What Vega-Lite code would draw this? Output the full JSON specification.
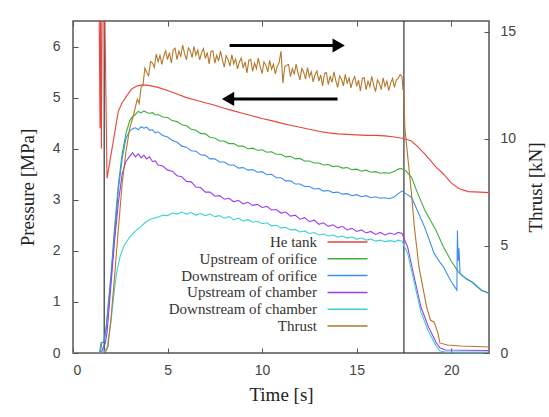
{
  "$schema": "https://vega.github.io/schema/vega-lite/v6.json",
  "width": 416,
  "height": 332,
  "autosize": {"type": "none"},
  "padding": {"left": 73, "top": 21, "right": 60, "bottom": 64},
  "background": "white",
  "config": {
    "view": {"stroke": "#555555", "strokeWidth": 1.5},
    "axis": {"labelFont": "Liberation Sans", "labelFontSize": 14, "labelColor": "#444444", "titleFont": "Liberation Serif", "titleFontSize": 19, "titleFontWeight": "normal", "titleColor": "#222222", "tickColor": "#555555", "domain": false, "grid": false}
  },
  "datasets": {
    "p": [
      {"s":"He tank","t":0,"v":6.9},{"s":"He tank","t":1.38,"v":6.9},{"s":"He tank","t":1.43,"v":4.4},{"s":"He tank","t":1.46,"v":6.7},{"s":"He tank","t":1.5,"v":4.0},{"s":"He tank","t":1.54,"v":6.7},{"s":"He tank","t":1.68,"v":6.7},{"s":"He tank","t":1.8,"v":3.42},{"s":"He tank","t":2.0,"v":3.86},{"s":"He tank","t":2.2,"v":4.3},{"s":"He tank","t":2.4,"v":4.74},{"s":"He tank","t":2.6,"v":4.9},{"s":"He tank","t":2.85,"v":5.04},{"s":"He tank","t":3.1,"v":5.17},{"s":"He tank","t":3.4,"v":5.23},{"s":"He tank","t":3.7,"v":5.25},{"s":"He tank","t":4.0,"v":5.24},{"s":"He tank","t":4.5,"v":5.2},{"s":"He tank","t":5.0,"v":5.14},{"s":"He tank","t":5.5,"v":5.07},{"s":"He tank","t":6.0,"v":5.0},{"s":"He tank","t":6.5,"v":4.95},{"s":"He tank","t":7.0,"v":4.9},{"s":"He tank","t":7.5,"v":4.85},{"s":"He tank","t":8.0,"v":4.79},{"s":"He tank","t":8.5,"v":4.74},{"s":"He tank","t":9.0,"v":4.69},{"s":"He tank","t":9.5,"v":4.64},{"s":"He tank","t":10.0,"v":4.59},{"s":"He tank","t":10.5,"v":4.55},{"s":"He tank","t":11.0,"v":4.5},{"s":"He tank","t":11.5,"v":4.46},{"s":"He tank","t":12.0,"v":4.42},{"s":"He tank","t":12.5,"v":4.38},{"s":"He tank","t":13.0,"v":4.34},{"s":"He tank","t":13.5,"v":4.31},{"s":"He tank","t":14.0,"v":4.29},{"s":"He tank","t":14.5,"v":4.28},{"s":"He tank","t":15.0,"v":4.27},{"s":"He tank","t":15.5,"v":4.26},{"s":"He tank","t":16.0,"v":4.26},{"s":"He tank","t":16.5,"v":4.25},{"s":"He tank","t":17.0,"v":4.23},{"s":"He tank","t":17.5,"v":4.2},{"s":"He tank","t":17.9,"v":4.15},{"s":"He tank","t":18.2,"v":4.05},{"s":"He tank","t":18.6,"v":3.9},{"s":"He tank","t":18.9,"v":3.77},{"s":"He tank","t":19.2,"v":3.64},{"s":"He tank","t":19.6,"v":3.5},{"s":"He tank","t":20.0,"v":3.33},{"s":"He tank","t":20.4,"v":3.22},{"s":"He tank","t":20.9,"v":3.16},{"s":"He tank","t":21.5,"v":3.15},{"s":"He tank","t":22,"v":3.14},

      {"s":"Upstream of orifice","t":0,"v":0},{"s":"Upstream of orifice","t":1.45,"v":0},{"s":"Upstream of orifice","t":1.52,"v":0.2},{"s":"Upstream of orifice","t":1.65,"v":0.22},{"s":"Upstream of orifice","t":1.75,"v":0.5},{"s":"Upstream of orifice","t":2.0,"v":1.5},{"s":"Upstream of orifice","t":2.2,"v":2.46},{"s":"Upstream of orifice","t":2.4,"v":3.3},{"s":"Upstream of orifice","t":2.6,"v":3.9},{"s":"Upstream of orifice","t":2.8,"v":4.3},{"s":"Upstream of orifice","t":3.0,"v":4.55},{"s":"Upstream of orifice","t":3.15,"v":4.63},{"s":"Upstream of orifice","t":3.3,"v":4.67},{"s":"Upstream of orifice","t":3.45,"v":4.73},{"s":"Upstream of orifice","t":3.6,"v":4.7},{"s":"Upstream of orifice","t":3.75,"v":4.74},{"s":"Upstream of orifice","t":3.9,"v":4.71},{"s":"Upstream of orifice","t":4.05,"v":4.69},{"s":"Upstream of orifice","t":4.2,"v":4.71},{"s":"Upstream of orifice","t":4.35,"v":4.66},{"s":"Upstream of orifice","t":4.5,"v":4.67},{"s":"Upstream of orifice","t":4.75,"v":4.62},{"s":"Upstream of orifice","t":5.0,"v":4.61},{"s":"Upstream of orifice","t":5.25,"v":4.55},{"s":"Upstream of orifice","t":5.5,"v":4.53},{"s":"Upstream of orifice","t":5.75,"v":4.47},{"s":"Upstream of orifice","t":6.0,"v":4.45},{"s":"Upstream of orifice","t":6.25,"v":4.38},{"s":"Upstream of orifice","t":6.5,"v":4.36},{"s":"Upstream of orifice","t":6.75,"v":4.3},{"s":"Upstream of orifice","t":7.0,"v":4.29},{"s":"Upstream of orifice","t":7.25,"v":4.22},{"s":"Upstream of orifice","t":7.5,"v":4.21},{"s":"Upstream of orifice","t":7.75,"v":4.15},{"s":"Upstream of orifice","t":8.0,"v":4.15},{"s":"Upstream of orifice","t":8.25,"v":4.1},{"s":"Upstream of orifice","t":8.5,"v":4.1},{"s":"Upstream of orifice","t":8.75,"v":4.05},{"s":"Upstream of orifice","t":9.0,"v":4.05},{"s":"Upstream of orifice","t":9.25,"v":4.0},{"s":"Upstream of orifice","t":9.5,"v":4.01},{"s":"Upstream of orifice","t":9.75,"v":3.97},{"s":"Upstream of orifice","t":10.0,"v":3.98},{"s":"Upstream of orifice","t":10.25,"v":3.93},{"s":"Upstream of orifice","t":10.5,"v":3.94},{"s":"Upstream of orifice","t":10.75,"v":3.89},{"s":"Upstream of orifice","t":11.0,"v":3.89},{"s":"Upstream of orifice","t":11.25,"v":3.84},{"s":"Upstream of orifice","t":11.5,"v":3.85},{"s":"Upstream of orifice","t":11.75,"v":3.8},{"s":"Upstream of orifice","t":12.0,"v":3.81},{"s":"Upstream of orifice","t":12.25,"v":3.76},{"s":"Upstream of orifice","t":12.5,"v":3.76},{"s":"Upstream of orifice","t":12.75,"v":3.72},{"s":"Upstream of orifice","t":13.0,"v":3.72},{"s":"Upstream of orifice","t":13.25,"v":3.68},{"s":"Upstream of orifice","t":13.5,"v":3.69},{"s":"Upstream of orifice","t":13.75,"v":3.65},{"s":"Upstream of orifice","t":14.0,"v":3.66},{"s":"Upstream of orifice","t":14.25,"v":3.62},{"s":"Upstream of orifice","t":14.5,"v":3.63},{"s":"Upstream of orifice","t":14.75,"v":3.59},{"s":"Upstream of orifice","t":15.0,"v":3.6},{"s":"Upstream of orifice","t":15.25,"v":3.56},{"s":"Upstream of orifice","t":15.5,"v":3.58},{"s":"Upstream of orifice","t":15.75,"v":3.54},{"s":"Upstream of orifice","t":16.0,"v":3.55},{"s":"Upstream of orifice","t":16.25,"v":3.52},{"s":"Upstream of orifice","t":16.5,"v":3.53},{"s":"Upstream of orifice","t":16.75,"v":3.52},{"s":"Upstream of orifice","t":17.0,"v":3.56},{"s":"Upstream of orifice","t":17.2,"v":3.6},{"s":"Upstream of orifice","t":17.35,"v":3.61},{"s":"Upstream of orifice","t":17.6,"v":3.57},{"s":"Upstream of orifice","t":17.9,"v":3.44},{"s":"Upstream of orifice","t":18.2,"v":3.15},{"s":"Upstream of orifice","t":18.6,"v":2.8},{"s":"Upstream of orifice","t":18.9,"v":2.6},{"s":"Upstream of orifice","t":19.2,"v":2.4},{"s":"Upstream of orifice","t":19.6,"v":2.07},{"s":"Upstream of orifice","t":20.0,"v":1.8},{"s":"Upstream of orifice","t":20.4,"v":1.58},{"s":"Upstream of orifice","t":20.7,"v":1.48},{"s":"Upstream of orifice","t":21.1,"v":1.39},{"s":"Upstream of orifice","t":21.6,"v":1.23},{"s":"Upstream of orifice","t":22,"v":1.17},

      {"s":"Downstream of orifice","t":0,"v":0},{"s":"Downstream of orifice","t":1.4,"v":0},{"s":"Downstream of orifice","t":1.48,"v":0.2},{"s":"Downstream of orifice","t":1.62,"v":0.22},{"s":"Downstream of orifice","t":1.75,"v":0.45},{"s":"Downstream of orifice","t":2.0,"v":1.4},{"s":"Downstream of orifice","t":2.2,"v":2.35},{"s":"Downstream of orifice","t":2.4,"v":3.2},{"s":"Downstream of orifice","t":2.6,"v":3.8},{"s":"Downstream of orifice","t":2.8,"v":4.2},{"s":"Downstream of orifice","t":3.0,"v":4.35},{"s":"Downstream of orifice","t":3.15,"v":4.39},{"s":"Downstream of orifice","t":3.3,"v":4.41},{"s":"Downstream of orifice","t":3.45,"v":4.37},{"s":"Downstream of orifice","t":3.6,"v":4.43},{"s":"Downstream of orifice","t":3.75,"v":4.4},{"s":"Downstream of orifice","t":3.9,"v":4.42},{"s":"Downstream of orifice","t":4.05,"v":4.36},{"s":"Downstream of orifice","t":4.2,"v":4.37},{"s":"Downstream of orifice","t":4.35,"v":4.31},{"s":"Downstream of orifice","t":4.5,"v":4.33},{"s":"Downstream of orifice","t":4.75,"v":4.26},{"s":"Downstream of orifice","t":5.0,"v":4.23},{"s":"Downstream of orifice","t":5.25,"v":4.16},{"s":"Downstream of orifice","t":5.5,"v":4.13},{"s":"Downstream of orifice","t":5.75,"v":4.05},{"s":"Downstream of orifice","t":6.0,"v":4.03},{"s":"Downstream of orifice","t":6.25,"v":3.96},{"s":"Downstream of orifice","t":6.5,"v":3.95},{"s":"Downstream of orifice","t":6.75,"v":3.88},{"s":"Downstream of orifice","t":7.0,"v":3.87},{"s":"Downstream of orifice","t":7.25,"v":3.8},{"s":"Downstream of orifice","t":7.5,"v":3.8},{"s":"Downstream of orifice","t":7.75,"v":3.74},{"s":"Downstream of orifice","t":8.0,"v":3.74},{"s":"Downstream of orifice","t":8.25,"v":3.68},{"s":"Downstream of orifice","t":8.5,"v":3.68},{"s":"Downstream of orifice","t":8.75,"v":3.62},{"s":"Downstream of orifice","t":9.0,"v":3.63},{"s":"Downstream of orifice","t":9.25,"v":3.58},{"s":"Downstream of orifice","t":9.5,"v":3.59},{"s":"Downstream of orifice","t":9.75,"v":3.54},{"s":"Downstream of orifice","t":10.0,"v":3.55},{"s":"Downstream of orifice","t":10.25,"v":3.49},{"s":"Downstream of orifice","t":10.5,"v":3.5},{"s":"Downstream of orifice","t":10.75,"v":3.43},{"s":"Downstream of orifice","t":11.0,"v":3.43},{"s":"Downstream of orifice","t":11.25,"v":3.37},{"s":"Downstream of orifice","t":11.5,"v":3.37},{"s":"Downstream of orifice","t":11.75,"v":3.31},{"s":"Downstream of orifice","t":12.0,"v":3.31},{"s":"Downstream of orifice","t":12.25,"v":3.26},{"s":"Downstream of orifice","t":12.5,"v":3.26},{"s":"Downstream of orifice","t":12.75,"v":3.21},{"s":"Downstream of orifice","t":13.0,"v":3.22},{"s":"Downstream of orifice","t":13.25,"v":3.17},{"s":"Downstream of orifice","t":13.5,"v":3.18},{"s":"Downstream of orifice","t":13.75,"v":3.14},{"s":"Downstream of orifice","t":14.0,"v":3.15},{"s":"Downstream of orifice","t":14.25,"v":3.11},{"s":"Downstream of orifice","t":14.5,"v":3.12},{"s":"Downstream of orifice","t":14.75,"v":3.08},{"s":"Downstream of orifice","t":15.0,"v":3.1},{"s":"Downstream of orifice","t":15.25,"v":3.06},{"s":"Downstream of orifice","t":15.5,"v":3.08},{"s":"Downstream of orifice","t":15.75,"v":3.04},{"s":"Downstream of orifice","t":16.0,"v":3.06},{"s":"Downstream of orifice","t":16.25,"v":3.03},{"s":"Downstream of orifice","t":16.5,"v":3.04},{"s":"Downstream of orifice","t":16.75,"v":3.02},{"s":"Downstream of orifice","t":17.0,"v":3.06},{"s":"Downstream of orifice","t":17.2,"v":3.12},{"s":"Downstream of orifice","t":17.4,"v":3.17},{"s":"Downstream of orifice","t":17.6,"v":3.12},{"s":"Downstream of orifice","t":17.9,"v":3.05},{"s":"Downstream of orifice","t":18.2,"v":2.8},{"s":"Downstream of orifice","t":18.6,"v":2.46},{"s":"Downstream of orifice","t":19.1,"v":1.95},{"s":"Downstream of orifice","t":19.4,"v":1.78},{"s":"Downstream of orifice","t":19.6,"v":1.68},{"s":"Downstream of orifice","t":20.0,"v":1.4},{"s":"Downstream of orifice","t":20.3,"v":1.23},{"s":"Downstream of orifice","t":20.33,"v":2.4},{"s":"Downstream of orifice","t":20.37,"v":1.8},{"s":"Downstream of orifice","t":20.41,"v":2.05},{"s":"Downstream of orifice","t":20.47,"v":1.56},{"s":"Downstream of orifice","t":20.8,"v":1.45},{"s":"Downstream of orifice","t":21.1,"v":1.39},{"s":"Downstream of orifice","t":21.6,"v":1.23},{"s":"Downstream of orifice","t":22,"v":1.17},

      {"s":"Upstream of chamber","t":0,"v":0},{"s":"Upstream of chamber","t":1.5,"v":0},{"s":"Upstream of chamber","t":1.6,"v":0.12},{"s":"Upstream of chamber","t":1.7,"v":0.18},{"s":"Upstream of chamber","t":1.8,"v":0.4},{"s":"Upstream of chamber","t":2.0,"v":1.3},{"s":"Upstream of chamber","t":2.2,"v":2.2},{"s":"Upstream of chamber","t":2.4,"v":2.95},{"s":"Upstream of chamber","t":2.6,"v":3.5},{"s":"Upstream of chamber","t":2.8,"v":3.75},{"s":"Upstream of chamber","t":3.0,"v":3.85},{"s":"Upstream of chamber","t":3.15,"v":3.92},{"s":"Upstream of chamber","t":3.3,"v":3.84},{"s":"Upstream of chamber","t":3.45,"v":3.9},{"s":"Upstream of chamber","t":3.6,"v":3.82},{"s":"Upstream of chamber","t":3.75,"v":3.87},{"s":"Upstream of chamber","t":3.9,"v":3.8},{"s":"Upstream of chamber","t":4.05,"v":3.84},{"s":"Upstream of chamber","t":4.2,"v":3.75},{"s":"Upstream of chamber","t":4.35,"v":3.76},{"s":"Upstream of chamber","t":4.5,"v":3.68},{"s":"Upstream of chamber","t":4.75,"v":3.66},{"s":"Upstream of chamber","t":5.0,"v":3.58},{"s":"Upstream of chamber","t":5.25,"v":3.56},{"s":"Upstream of chamber","t":5.5,"v":3.47},{"s":"Upstream of chamber","t":5.75,"v":3.45},{"s":"Upstream of chamber","t":6.0,"v":3.36},{"s":"Upstream of chamber","t":6.25,"v":3.35},{"s":"Upstream of chamber","t":6.5,"v":3.25},{"s":"Upstream of chamber","t":6.75,"v":3.24},{"s":"Upstream of chamber","t":7.0,"v":3.15},{"s":"Upstream of chamber","t":7.25,"v":3.15},{"s":"Upstream of chamber","t":7.5,"v":3.07},{"s":"Upstream of chamber","t":7.75,"v":3.08},{"s":"Upstream of chamber","t":8.0,"v":3.01},{"s":"Upstream of chamber","t":8.25,"v":3.03},{"s":"Upstream of chamber","t":8.5,"v":2.96},{"s":"Upstream of chamber","t":8.75,"v":2.99},{"s":"Upstream of chamber","t":9.0,"v":2.92},{"s":"Upstream of chamber","t":9.25,"v":2.95},{"s":"Upstream of chamber","t":9.5,"v":2.89},{"s":"Upstream of chamber","t":9.75,"v":2.91},{"s":"Upstream of chamber","t":10.0,"v":2.85},{"s":"Upstream of chamber","t":10.25,"v":2.87},{"s":"Upstream of chamber","t":10.5,"v":2.8},{"s":"Upstream of chamber","t":10.75,"v":2.81},{"s":"Upstream of chamber","t":11.0,"v":2.74},{"s":"Upstream of chamber","t":11.25,"v":2.76},{"s":"Upstream of chamber","t":11.5,"v":2.68},{"s":"Upstream of chamber","t":11.75,"v":2.7},{"s":"Upstream of chamber","t":12.0,"v":2.62},{"s":"Upstream of chamber","t":12.25,"v":2.65},{"s":"Upstream of chamber","t":12.5,"v":2.57},{"s":"Upstream of chamber","t":12.75,"v":2.6},{"s":"Upstream of chamber","t":13.0,"v":2.52},{"s":"Upstream of chamber","t":13.25,"v":2.55},{"s":"Upstream of chamber","t":13.5,"v":2.48},{"s":"Upstream of chamber","t":13.75,"v":2.51},{"s":"Upstream of chamber","t":14.0,"v":2.45},{"s":"Upstream of chamber","t":14.25,"v":2.48},{"s":"Upstream of chamber","t":14.5,"v":2.41},{"s":"Upstream of chamber","t":14.75,"v":2.44},{"s":"Upstream of chamber","t":15.0,"v":2.38},{"s":"Upstream of chamber","t":15.25,"v":2.41},{"s":"Upstream of chamber","t":15.5,"v":2.35},{"s":"Upstream of chamber","t":15.75,"v":2.38},{"s":"Upstream of chamber","t":16.0,"v":2.32},{"s":"Upstream of chamber","t":16.25,"v":2.36},{"s":"Upstream of chamber","t":16.5,"v":2.31},{"s":"Upstream of chamber","t":16.75,"v":2.35},{"s":"Upstream of chamber","t":17.0,"v":2.32},{"s":"Upstream of chamber","t":17.2,"v":2.36},{"s":"Upstream of chamber","t":17.4,"v":2.34},{"s":"Upstream of chamber","t":17.7,"v":2.07},{"s":"Upstream of chamber","t":18.0,"v":1.56},{"s":"Upstream of chamber","t":18.4,"v":0.9},{"s":"Upstream of chamber","t":18.8,"v":0.51},{"s":"Upstream of chamber","t":19.2,"v":0.21},{"s":"Upstream of chamber","t":19.4,"v":0.1},{"s":"Upstream of chamber","t":19.7,"v":0.06},{"s":"Upstream of chamber","t":22,"v":0.05},

      {"s":"Downstream of chamber","t":0,"v":0},{"s":"Downstream of chamber","t":1.55,"v":0},{"s":"Downstream of chamber","t":1.7,"v":0.05},{"s":"Downstream of chamber","t":1.8,"v":0.1},{"s":"Downstream of chamber","t":2.0,"v":0.6},{"s":"Downstream of chamber","t":2.15,"v":1.1},{"s":"Downstream of chamber","t":2.3,"v":1.56},{"s":"Downstream of chamber","t":2.5,"v":1.9},{"s":"Downstream of chamber","t":2.7,"v":2.1},{"s":"Downstream of chamber","t":3.0,"v":2.27},{"s":"Downstream of chamber","t":3.3,"v":2.39},{"s":"Downstream of chamber","t":3.55,"v":2.46},{"s":"Downstream of chamber","t":3.8,"v":2.55},{"s":"Downstream of chamber","t":4.0,"v":2.6},{"s":"Downstream of chamber","t":4.25,"v":2.64},{"s":"Downstream of chamber","t":4.5,"v":2.66},{"s":"Downstream of chamber","t":4.75,"v":2.7},{"s":"Downstream of chamber","t":5.0,"v":2.69},{"s":"Downstream of chamber","t":5.25,"v":2.74},{"s":"Downstream of chamber","t":5.5,"v":2.72},{"s":"Downstream of chamber","t":5.75,"v":2.76},{"s":"Downstream of chamber","t":6.0,"v":2.72},{"s":"Downstream of chamber","t":6.25,"v":2.75},{"s":"Downstream of chamber","t":6.5,"v":2.7},{"s":"Downstream of chamber","t":6.75,"v":2.73},{"s":"Downstream of chamber","t":7.0,"v":2.69},{"s":"Downstream of chamber","t":7.25,"v":2.72},{"s":"Downstream of chamber","t":7.5,"v":2.67},{"s":"Downstream of chamber","t":7.75,"v":2.69},{"s":"Downstream of chamber","t":8.0,"v":2.64},{"s":"Downstream of chamber","t":8.25,"v":2.67},{"s":"Downstream of chamber","t":8.5,"v":2.61},{"s":"Downstream of chamber","t":8.75,"v":2.64},{"s":"Downstream of chamber","t":9.0,"v":2.58},{"s":"Downstream of chamber","t":9.25,"v":2.61},{"s":"Downstream of chamber","t":9.5,"v":2.56},{"s":"Downstream of chamber","t":9.75,"v":2.58},{"s":"Downstream of chamber","t":10.0,"v":2.53},{"s":"Downstream of chamber","t":10.25,"v":2.55},{"s":"Downstream of chamber","t":10.5,"v":2.49},{"s":"Downstream of chamber","t":10.75,"v":2.5},{"s":"Downstream of chamber","t":11.0,"v":2.45},{"s":"Downstream of chamber","t":11.25,"v":2.46},{"s":"Downstream of chamber","t":11.5,"v":2.41},{"s":"Downstream of chamber","t":11.75,"v":2.42},{"s":"Downstream of chamber","t":12.0,"v":2.37},{"s":"Downstream of chamber","t":12.25,"v":2.39},{"s":"Downstream of chamber","t":12.5,"v":2.34},{"s":"Downstream of chamber","t":12.75,"v":2.36},{"s":"Downstream of chamber","t":13.0,"v":2.31},{"s":"Downstream of chamber","t":13.25,"v":2.33},{"s":"Downstream of chamber","t":13.5,"v":2.29},{"s":"Downstream of chamber","t":13.75,"v":2.31},{"s":"Downstream of chamber","t":14.0,"v":2.27},{"s":"Downstream of chamber","t":14.25,"v":2.29},{"s":"Downstream of chamber","t":14.5,"v":2.25},{"s":"Downstream of chamber","t":14.75,"v":2.27},{"s":"Downstream of chamber","t":15.0,"v":2.23},{"s":"Downstream of chamber","t":15.25,"v":2.25},{"s":"Downstream of chamber","t":15.5,"v":2.21},{"s":"Downstream of chamber","t":15.75,"v":2.23},{"s":"Downstream of chamber","t":16.0,"v":2.19},{"s":"Downstream of chamber","t":16.25,"v":2.21},{"s":"Downstream of chamber","t":16.5,"v":2.18},{"s":"Downstream of chamber","t":16.75,"v":2.2},{"s":"Downstream of chamber","t":17.0,"v":2.18},{"s":"Downstream of chamber","t":17.2,"v":2.21},{"s":"Downstream of chamber","t":17.4,"v":2.19},{"s":"Downstream of chamber","t":17.7,"v":1.95},{"s":"Downstream of chamber","t":18.0,"v":1.45},{"s":"Downstream of chamber","t":18.4,"v":0.8},{"s":"Downstream of chamber","t":18.8,"v":0.42},{"s":"Downstream of chamber","t":19.2,"v":0.14},{"s":"Downstream of chamber","t":19.4,"v":0.04},{"s":"Downstream of chamber","t":19.7,"v":0.02},{"s":"Downstream of chamber","t":22,"v":0.02}
    ],
    "k": [
      {"s":"Thrust","t":0,"v":0},{"s":"Thrust","t":1.7,"v":0},{"s":"Thrust","t":1.85,"v":0.3},{"s":"Thrust","t":2.0,"v":1.5},{"s":"Thrust","t":2.2,"v":3.6},{"s":"Thrust","t":2.4,"v":5.8},{"s":"Thrust","t":2.6,"v":7.9},{"s":"Thrust","t":2.8,"v":9.4},{"s":"Thrust","t":3.0,"v":10.5},{"s":"Thrust","t":3.2,"v":11.1},
      {"s":"Thrust","t":3.4,"v":11.85},{"s":"Thrust","t":3.5,"v":11.65},{"s":"Thrust","t":3.6,"v":12.4},{"s":"Thrust","t":3.7,"v":12.5},{"s":"Thrust","t":3.8,"v":13.3},{"s":"Thrust","t":3.9,"v":13.1},{"s":"Thrust","t":4.0,"v":12.95},{"s":"Thrust","t":4.1,"v":13.6},{"s":"Thrust","t":4.2,"v":13.55},{"s":"Thrust","t":4.3,"v":13.33},{"s":"Thrust","t":4.4,"v":13.95},{"s":"Thrust","t":4.5,"v":13.6},{"s":"Thrust","t":4.6,"v":13.89},{"s":"Thrust","t":4.7,"v":13.48},{"s":"Thrust","t":4.8,"v":13.87},{"s":"Thrust","t":4.9,"v":14.11},{"s":"Thrust","t":5.0,"v":13.7},{"s":"Thrust","t":5.1,"v":14.02},{"s":"Thrust","t":5.2,"v":13.54},{"s":"Thrust","t":5.3,"v":14.16},{"s":"Thrust","t":5.4,"v":14.23},{"s":"Thrust","t":5.5,"v":13.7},{"s":"Thrust","t":5.6,"v":14.1},{"s":"Thrust","t":5.7,"v":13.86},{"s":"Thrust","t":5.8,"v":14.37},{"s":"Thrust","t":5.9,"v":13.98},{"s":"Thrust","t":6.0,"v":13.69},{"s":"Thrust","t":6.1,"v":14.25},{"s":"Thrust","t":6.2,"v":14.1},{"s":"Thrust","t":6.3,"v":13.79},{"s":"Thrust","t":6.4,"v":14.32},{"s":"Thrust","t":6.5,"v":13.9},{"s":"Thrust","t":6.6,"v":14.14},{"s":"Thrust","t":6.7,"v":13.68},{"s":"Thrust","t":6.8,"v":14.02},{"s":"Thrust","t":6.9,"v":14.21},{"s":"Thrust","t":7.0,"v":13.75},{"s":"Thrust","t":7.1,"v":14.03},{"s":"Thrust","t":7.2,"v":13.5},{"s":"Thrust","t":7.3,"v":14.08},{"s":"Thrust","t":7.4,"v":14.1},{"s":"Thrust","t":7.5,"v":13.53},{"s":"Thrust","t":7.6,"v":13.9},{"s":"Thrust","t":7.7,"v":13.63},{"s":"Thrust","t":7.8,"v":14.1},{"s":"Thrust","t":7.9,"v":13.68},{"s":"Thrust","t":8.0,"v":13.35},{"s":"Thrust","t":8.1,"v":13.88},{"s":"Thrust","t":8.2,"v":13.71},{"s":"Thrust","t":8.3,"v":13.39},{"s":"Thrust","t":8.4,"v":13.92},{"s":"Thrust","t":8.5,"v":13.5},{"s":"Thrust","t":8.6,"v":13.73},{"s":"Thrust","t":8.7,"v":13.26},{"s":"Thrust","t":8.8,"v":13.59},{"s":"Thrust","t":8.9,"v":13.77},{"s":"Thrust","t":9.0,"v":13.3},{"s":"Thrust","t":9.1,"v":13.59},{"s":"Thrust","t":9.2,"v":13.08},{"s":"Thrust","t":9.3,"v":13.67},{"s":"Thrust","t":9.4,"v":13.71},{"s":"Thrust","t":9.5,"v":13.15},{"s":"Thrust","t":9.6,"v":13.54},{"s":"Thrust","t":9.7,"v":13.28},{"s":"Thrust","t":9.8,"v":13.77},{"s":"Thrust","t":9.9,"v":13.36},{"s":"Thrust","t":10.0,"v":13.05},{"s":"Thrust","t":10.1,"v":13.59},{"s":"Thrust","t":10.2,"v":13.43},{"s":"Thrust","t":10.3,"v":13.12},{"s":"Thrust","t":10.4,"v":13.66},{"s":"Thrust","t":10.5,"v":13.25},{"s":"Thrust","t":10.6,"v":13.49},{"s":"Thrust","t":10.7,"v":13.03},{"s":"Thrust","t":10.8,"v":13.37},{"s":"Thrust","t":10.9,"v":13.56},{"s":"Thrust","t":11.0,"v":14.1},{"s":"Thrust","t":11.1,"v":12.6},{"s":"Thrust","t":11.2,"v":13.36},{"s":"Thrust","t":11.3,"v":13.44},{"s":"Thrust","t":11.4,"v":13.47},{"s":"Thrust","t":11.5,"v":12.9},{"s":"Thrust","t":11.6,"v":13.28},{"s":"Thrust","t":11.7,"v":13.01},{"s":"Thrust","t":11.8,"v":13.49},{"s":"Thrust","t":11.9,"v":13.07},{"s":"Thrust","t":12.0,"v":12.75},{"s":"Thrust","t":12.1,"v":13.28},{"s":"Thrust","t":12.2,"v":13.11},{"s":"Thrust","t":12.3,"v":12.79},{"s":"Thrust","t":12.4,"v":13.32},{"s":"Thrust","t":12.5,"v":12.9},{"s":"Thrust","t":12.6,"v":13.13},{"s":"Thrust","t":12.7,"v":12.66},{"s":"Thrust","t":12.8,"v":12.99},{"s":"Thrust","t":12.9,"v":13.17},{"s":"Thrust","t":13.0,"v":12.7},{"s":"Thrust","t":13.1,"v":12.98},{"s":"Thrust","t":13.2,"v":12.47},{"s":"Thrust","t":13.3,"v":13.05},{"s":"Thrust","t":13.4,"v":13.09},{"s":"Thrust","t":13.5,"v":12.53},{"s":"Thrust","t":13.6,"v":12.91},{"s":"Thrust","t":13.7,"v":12.64},{"s":"Thrust","t":13.8,"v":13.13},{"s":"Thrust","t":13.9,"v":12.71},{"s":"Thrust","t":14.0,"v":12.4},{"s":"Thrust","t":14.1,"v":12.94},{"s":"Thrust","t":14.2,"v":12.78},{"s":"Thrust","t":14.3,"v":12.47},{"s":"Thrust","t":14.4,"v":13.01},{"s":"Thrust","t":14.5,"v":12.6},{"s":"Thrust","t":14.6,"v":12.84},{"s":"Thrust","t":14.7,"v":12.38},{"s":"Thrust","t":14.8,"v":12.72},{"s":"Thrust","t":14.9,"v":12.91},{"s":"Thrust","t":15.0,"v":12.45},{"s":"Thrust","t":15.1,"v":12.74},{"s":"Thrust","t":15.2,"v":12.23},{"s":"Thrust","t":15.3,"v":12.82},{"s":"Thrust","t":15.4,"v":12.86},{"s":"Thrust","t":15.5,"v":12.3},{"s":"Thrust","t":15.6,"v":12.69},{"s":"Thrust","t":15.7,"v":12.43},{"s":"Thrust","t":15.8,"v":12.92},{"s":"Thrust","t":15.9,"v":12.51},{"s":"Thrust","t":16.0,"v":12.2},{"s":"Thrust","t":16.1,"v":12.75},{"s":"Thrust","t":16.2,"v":12.6},{"s":"Thrust","t":16.3,"v":12.3},{"s":"Thrust","t":16.4,"v":12.85},{"s":"Thrust","t":16.5,"v":12.45},{"s":"Thrust","t":16.6,"v":12.7},{"s":"Thrust","t":16.7,"v":12.25},{"s":"Thrust","t":16.8,"v":12.6},{"s":"Thrust","t":16.9,"v":12.82},{"s":"Thrust","t":17.0,"v":12.4},{"s":"Thrust","t":17.1,"v":12.75},{"s":"Thrust","t":17.2,"v":12.82},{"s":"Thrust","t":17.3,"v":13.0},{"s":"Thrust","t":17.4,"v":12.9},
      {"s":"Thrust","t":17.45,"v":12.3},{"s":"Thrust","t":17.5,"v":12.25},{"s":"Thrust","t":17.55,"v":10.5},{"s":"Thrust","t":17.9,"v":7.45},{"s":"Thrust","t":18.05,"v":5.9},{"s":"Thrust","t":18.3,"v":4.0},{"s":"Thrust","t":18.7,"v":2.15},{"s":"Thrust","t":18.9,"v":1.54},{"s":"Thrust","t":19.1,"v":1.44},{"s":"Thrust","t":19.3,"v":0.93},{"s":"Thrust","t":19.4,"v":0.47},{"s":"Thrust","t":19.8,"v":0.37},{"s":"Thrust","t":20.5,"v":0.33},{"s":"Thrust","t":22,"v":0.28}
    ],
    "arrows": [
      {"x1": 8.28, "x2": 13.75, "y": 6.02},
      {"x1": 8.45, "x2": 13.99, "y": 4.975}
    ],
    "heads": [
      {"x": 14.05, "y": 6.02, "shape": "triangle-right"},
      {"x": 8.2, "y": 4.975, "shape": "triangle-left"}
    ],
    "vlines": [{"x": 1.65}, {"x": 17.5}]
  },
  "layer": [
    {
      "data": {"name": "vlines"},
      "mark": {"type": "rule", "color": "#333333", "strokeWidth": 1.2},
      "encoding": {
        "x": {"field": "x", "type": "quantitative", "scale": {"domain": [0, 22], "nice": false}, "axis": null}
      }
    },
    {
      "data": {"name": "p"},
      "mark": {"type": "line", "clip": true, "strokeWidth": 1.1},
      "encoding": {
        "x": {"field": "t", "type": "quantitative", "scale": {"domain": [0, 22], "nice": false},
              "axis": {"orient": "bottom", "values": [0, 5, 10, 15, 20], "tickSize": -5, "labelPadding": 15, "title": "Time [s]", "titlePadding": 8}},
        "y": {"field": "v", "type": "quantitative", "scale": {"domain": [0, 6.5], "nice": false},
              "axis": {"orient": "left", "values": [0, 1, 2, 3, 4, 5, 6], "tickSize": -5, "labelPadding": 18, "title": "Pressure [MPa]", "titlePadding": 15}},
        "color": {"field": "s", "type": "nominal",
          "scale": {"domain": ["He tank", "Upstream of orifice", "Downstream of orifice", "Upstream of chamber", "Downstream of chamber", "Thrust"],
                    "range": ["#e8453c", "#3daf3d", "#3d8ef0", "#9d3df0", "#3dd3d3", "#b5772a"]},
          "legend": {"orient": "none", "legendX": 267, "legendY": 213.5, "title": null, "padding": 0,
                     "symbolType": "M-4,0H4", "symbolSize": 100, "symbolStrokeWidth": 1.5,
                     "labelFont": "Liberation Serif", "labelFontSize": 15, "labelColor": "#333333",
                     "labelAlign": "right", "labelOffset": -38, "rowPadding": 0.8}}
      }
    },
    {
      "data": {"name": "k"},
      "mark": {"type": "line", "clip": true, "strokeWidth": 1.1},
      "encoding": {
        "x": {"field": "t", "type": "quantitative", "scale": {"domain": [0, 22], "nice": false},
              "axis": {"orient": "top", "values": [0, 5, 10, 15, 20], "tickSize": -5, "labels": false, "title": null}},
        "y": {"field": "v", "type": "quantitative", "scale": {"domain": [0, 15.5], "nice": false},
              "axis": {"orient": "right", "values": [0, 5, 10, 15], "tickSize": -5, "labelPadding": 16, "title": "Thrust [kN]", "titleAngle": 270, "titlePadding": 30}},
        "color": {"field": "s", "type": "nominal"}
      }
    },
    {
      "data": {"name": "arrows"},
      "mark": {"type": "rule", "color": "black", "strokeWidth": 3},
      "encoding": {
        "x": {"field": "x1", "type": "quantitative", "scale": {"domain": [0, 22], "nice": false}, "axis": null},
        "x2": {"field": "x2"},
        "y": {"field": "y", "type": "quantitative", "scale": {"domain": [0, 6.5], "nice": false}, "axis": null}
      }
    },
    {
      "data": {"name": "heads"},
      "mark": {"type": "point", "filled": true, "color": "black", "opacity": 1, "size": 200},
      "encoding": {
        "x": {"field": "x", "type": "quantitative", "scale": {"domain": [0, 22], "nice": false}, "axis": null},
        "y": {"field": "y", "type": "quantitative", "scale": {"domain": [0, 6.5], "nice": false}, "axis": null},
        "shape": {"field": "shape", "type": "nominal", "scale": null, "legend": null}
      }
    }
  ],
  "resolve": {"scale": {"y": "independent"}, "axis": {"x": "independent", "y": "independent"}}
}
